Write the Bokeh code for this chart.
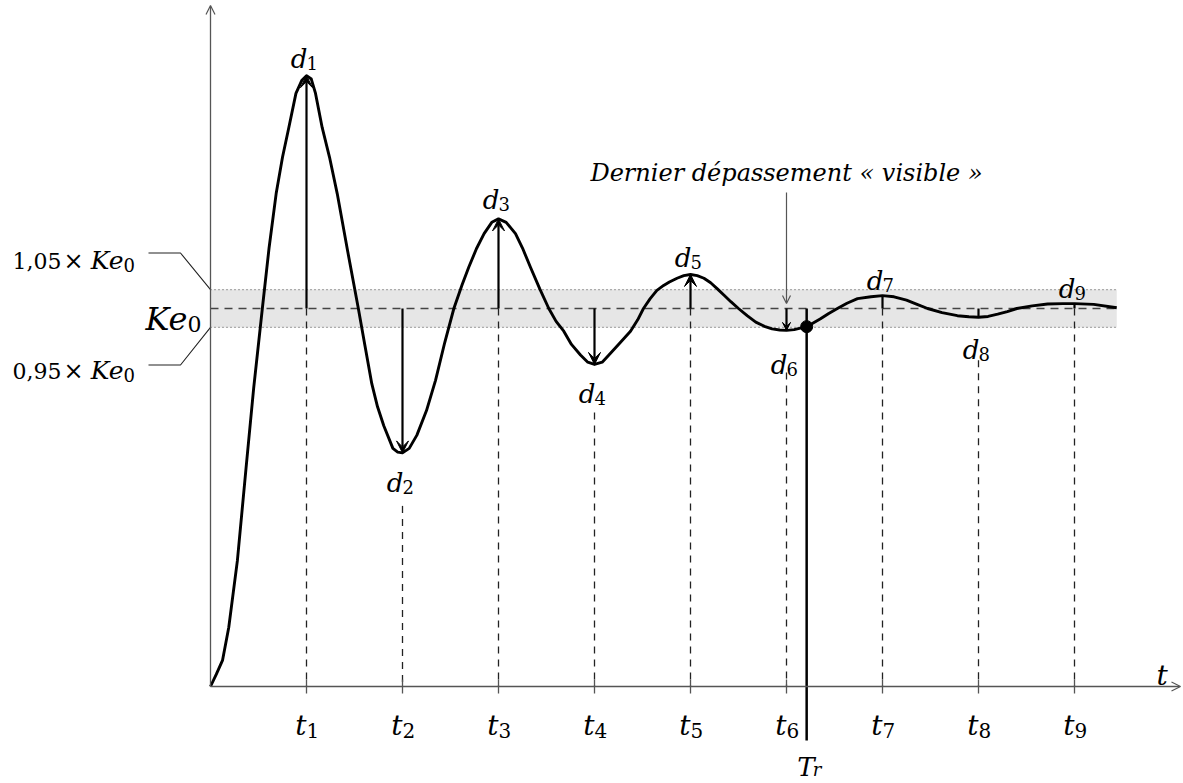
from bokeh.plotting import figure
from bokeh.models import Range1d, Arrow, VeeHead, OpenHead
from bokeh.core.properties import value
from bokeh.embed import file_html
from bokeh.resources import INLINE

# ---- data ----
curve_t = [0.0, 0.06, 0.125, 0.19, 0.28, 0.37, 0.45, 0.54, 0.61, 0.684, 0.75, 0.816, 0.89, 0.95,
           1.0, 1.05, 1.094, 1.163, 1.24, 1.32, 1.43, 1.54, 1.61, 1.68, 1.74, 1.805, 1.9, 1.95, 2.0,
           2.07, 2.15, 2.25, 2.344, 2.44, 2.535, 2.62, 2.69, 2.77, 2.85, 2.93, 3.0, 3.08, 3.177, 3.25,
           3.333, 3.43, 3.524, 3.6, 3.68, 3.76, 3.854, 3.93, 4.0, 4.08, 4.15, 4.25, 4.375, 4.45, 4.51,
           4.58, 4.65, 4.72, 4.78, 4.86, 4.93, 5.0, 5.07, 5.14, 5.21, 5.28, 5.35, 5.42, 5.5, 5.59,
           5.68, 5.77, 5.85, 5.93, 6.0, 6.08, 6.21, 6.35, 6.44, 6.53, 6.63, 6.74, 6.88, 7.0, 7.12,
           7.25, 7.36, 7.47, 7.62, 7.78, 7.9, 8.0, 8.1, 8.2, 8.3, 8.4, 8.56, 8.72, 8.88, 9.0, 9.2, 9.44]
curve_y = [0.0, 0.032, 0.069, 0.156, 0.333, 0.577, 0.79, 1.0, 1.16, 1.304, 1.40, 1.479, 1.569, 1.603,
           1.616, 1.607, 1.569, 1.479, 1.40, 1.304, 1.15, 1.0, 0.90, 0.801, 0.74, 0.69, 0.63, 0.62, 0.618,
           0.63, 0.665, 0.73, 0.81, 0.91, 1.0, 1.062, 1.109, 1.158, 1.198, 1.228, 1.237, 1.228, 1.198, 1.16,
           1.109, 1.052, 1.0, 0.966, 0.94, 0.905, 0.877, 0.858, 0.852, 0.858, 0.877, 0.905, 0.94, 0.97, 1.0,
           1.026, 1.048, 1.061, 1.07, 1.08, 1.087, 1.09, 1.087, 1.08, 1.068, 1.052, 1.035, 1.018, 1.0, 0.981,
           0.964, 0.953, 0.946, 0.943, 0.942, 0.944, 0.952, 0.972, 0.987, 1.0, 1.014, 1.026, 1.031, 1.034, 1.031,
           1.022, 1.011, 1.0, 0.989, 0.981, 0.978, 0.977, 0.979, 0.985, 0.992, 1.0, 1.007, 1.012, 1.013, 1.013, 1.011, 1.002]
peak_t = [1, 2, 3, 4, 5, 6, 7, 8, 9]
peak_d = [1.616, 0.618, 1.237, 0.852, 1.09, 0.942, 1.034, 0.977, 1.013]
sub_names = ["1", "2", "3", "4", "5", "6", "7", "8", "9"]
ke0 = 1.0
band_lo, band_hi = 0.95, 1.05
t_end = 9.44
tr_t, tr_level = 6.21, 0.952

# ---- layout (pixels) ----
W, H = 1183, 783
SX, SY = 96.0, 378.0
def X(px): return (px - 210) / SX
def Y(py): return (686 - py) / SY

SERIF = "DejaVu Serif"
AX = "#555555"

p = figure(width=W, height=H, x_range=Range1d(X(0), X(W)), y_range=Range1d(Y(H), Y(0)),
           output_backend="svg", toolbar_location=None, min_border=0,
           x_axis_location=None, y_axis_location=None)
p.grid.visible = False
p.outline_line_color = None

def txt(x, y, s, size, style="italic", align="left", xo=0, yo=0, color="black", font=SERIF):
    p.text(x=[x], y=[y], text=[s], text_font=value(font), text_font_size=f"{size}px",
           text_font_style=style, text_align=align, text_baseline="alphabetic",
           x_offset=xo, y_offset=yo, text_color=color)

# band
p.quad(left=0, right=t_end, bottom=band_lo, top=band_hi, fill_color="#e6e6e6", line_color=None)
for lv in (band_lo, band_hi):
    p.line([0, t_end], [lv, lv], line_color="#666666", line_width=1.2, line_dash="1 3")
p.line([0, t_end], [ke0, ke0], line_color="#444444", line_width=1.3, line_dash="8 6")

# dashed verticals
dash_gap_px = [0, 53, 0, 48, 0, 42, 0, 43, 0]
for t, d, g in zip(peak_t, peak_d, dash_gap_px):
    top = ke0 if d > ke0 else d - g / SY
    p.line([t, t], [top, 0], line_color="#222222", line_width=1.3, line_dash="7 6")

# axes
p.add_layout(Arrow(x_start=0, y_start=0, x_end=X(1180), y_end=0, line_color=AX, line_width=1.3,
                   end=OpenHead(size=9, line_color=AX, line_width=1.2)))
p.add_layout(Arrow(x_start=0, y_start=0, x_end=0, y_end=Y(5), line_color=AX, line_width=1.3,
                   end=OpenHead(size=9, line_color=AX, line_width=1.2)))
p.segment(x0=peak_t, y0=[7 / SY] * 9, x1=peak_t, y1=[-7 / SY] * 9, line_color=AX, line_width=1.3)

# leader lines
p.line([X(148), X(180), 0], [Y(252.5), Y(252.5), band_hi], line_color="#222222", line_width=1.1)
p.line([X(148), X(180), 0], [Y(364.5), Y(364.5), band_lo], line_color="#222222", line_width=1.1)

# curve
p.line(curve_t, curve_y, line_color="black", line_width=2.9, line_join="round")

# deviation arrows
for i in range(6):
    sz = 12 if i < 5 else 8
    p.add_layout(Arrow(x_start=peak_t[i], y_start=ke0, x_end=peak_t[i], y_end=peak_d[i],
                       line_color="black", line_width=2.2,
                       end=VeeHead(size=sz, fill_color="black", line_color="black", line_width=1)))
p.segment(x0=peak_t[6:], y0=[ke0] * 3, x1=peak_t[6:], y1=peak_d[6:], line_color="black", line_width=2.2)

# settling time
p.segment(x0=[tr_t], y0=[ke0], x1=[tr_t], y1=[Y(740)], line_color="black", line_width=2.5)
p.scatter([tr_t], [tr_level], size=12, color="black")

# "last visible overshoot" arrow
p.add_layout(Arrow(x_start=6, y_start=Y(192), x_end=6, y_end=Y(303), line_color=AX, line_width=1.2,
                   end=OpenHead(size=8, line_color=AX, line_width=1.2)))
txt(6, Y(172), "Dernier dépassement « visible »", 24, align="center")

# d labels
d_off = [-17, 30, -19, 30, -16, 35, -15, 33, -15]
for t, d, n, o in zip(peak_t, peak_d, sub_names, d_off):
    txt(t, d, "d", 26, align="right", xo=1, yo=o)
    txt(t, d, n, 18, style="normal", align="left", xo=0, yo=o + 4)

# t tick labels
for t, n in zip(peak_t, sub_names):
    txt(t, 0, "t", 28, align="right", xo=0, yo=39)
    txt(t, 0, n, 20, style="normal", align="left", xo=0, yo=44)
txt(X(1156), 0, "t", 28, align="left", yo=-11)

# T_r label
txt(tr_t, 0, "T", 26, align="right", xo=8, yo=80)
txt(tr_t, 0, "r", 18, align="left", xo=6, yo=83)

# left labels
for base, num in ((260, "1,05"), (370, "0,95")):
    txt(X(12), Y(base), num, 22, style="normal")
    txt(X(73), Y(base), "×", 24, style="normal", align="center")
    txt(X(123), Y(base), "Ke", 25, align="right")
    txt(X(123), Y(base + 4), "0", 18, style="normal")
txt(X(187), Y(318), "Ke", 32, align="right")
txt(X(187), Y(323), "0", 22, style="normal")

open("out.html", "w").write(file_html(p, INLINE))
